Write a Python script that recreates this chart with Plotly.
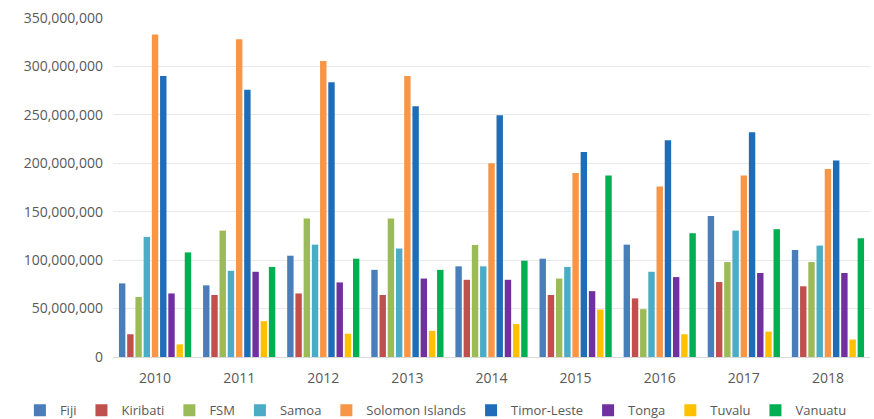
import plotly.graph_objects as go

years = ["2010", "2011", "2012", "2013", "2014", "2015", "2016", "2017", "2018"]
fiji = [76e6, 74e6, 104.6e6, 90e6, 93.6e6, 101.5e6, 116e6, 145.7e6, 110.5e6]
kiribati = [23.5e6, 64e6, 65.6e6, 64e6, 79.7e6, 64e6, 60.5e6, 77.4e6, 73e6]
fsm = [62e6, 130.5e6, 143e6, 143e6, 115.7e6, 81e6, 49.4e6, 98e6, 98e6]
samoa = [124e6, 89e6, 116e6, 112e6, 93.6e6, 93e6, 88e6, 130.5e6, 115e6]
solomon = [333e6, 328e6, 305.5e6, 290e6, 200e6, 190e6, 176e6, 187.4e6, 194e6]
timor = [290e6, 276e6, 283.7e6, 259e6, 249.6e6, 211.6e6, 223.7e6, 232e6, 203e6]
tonga = [65.6e6, 88e6, 77e6, 81e6, 79.7e6, 68e6, 82.5e6, 86.7e6, 86.7e6]
tuvalu = [13e6, 37e6, 24e6, 27e6, 34e6, 49e6, 23.5e6, 26.3e6, 18e6]
vanuatu = [108e6, 93e6, 101.5e6, 90e6, 99.4e6, 187.4e6, 127.8e6, 132e6, 122.6e6]

series = [
    ("Fiji", fiji, "#4a7ebb"),
    ("Kiribati", kiribati, "#c0504d"),
    ("FSM", fsm, "#9bbb59"),
    ("Samoa", samoa, "#4bacc6"),
    ("Solomon Islands", solomon, "#f79646"),
    ("Timor-Leste", timor, "#1f6cb8"),
    ("Tonga", tonga, "#7030a0"),
    ("Tuvalu", tuvalu, "#ffc000"),
    ("Vanuatu", vanuatu, "#00b050"),
]

fig = go.Figure()
for name, vals, color in series:
    fig.add_trace(go.Bar(x=years, y=vals, name=name, marker=dict(color=color, line=dict(width=0))))

fig.update_layout(
    width=874, height=419,
    barmode="group", bargap=0.12, bargroupgap=0.22,
    paper_bgcolor="white", plot_bgcolor="white",
    margin=dict(l=113, r=4, t=18, b=62, autoexpand=False),
    font=dict(family="Open Sans, sans-serif", size=13, color="#595959"),
    xaxis=dict(showgrid=False, showline=True, linecolor="#d9d9d9", tickfont=dict(size=14),
               ticks="", automargin=False, ticklabelstandoff=8),
    yaxis=dict(range=[0, 350e6], dtick=50e6, tickformat=",d", gridcolor="#e8e8e8",
               zeroline=False, tickfont=dict(size=14), ticklabelstandoff=9, automargin=False),
    legend=dict(orientation="h", x=-0.123, xanchor="left", y=-0.113, yanchor="top",
                font=dict(size=13), itemwidth=30, tracegroupgap=0),
    showlegend=True,
)

fig.write_html("out.html", config={"displayModeBar": False},
               post_script="document.body.style.margin='0';")
